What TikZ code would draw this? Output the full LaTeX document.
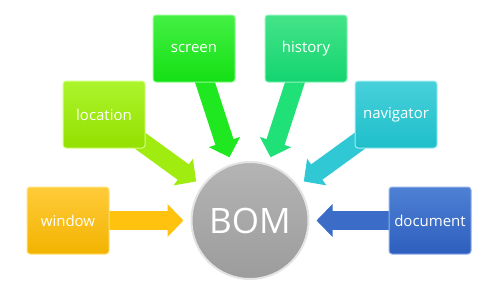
\documentclass[tikz,border=0pt]{standalone}
\usepackage{fontspec}
\setmainfont{Open Sans}
\usetikzlibrary{arrows.meta,backgrounds}
\definecolor{winT}{HTML}{FFCB3A}\definecolor{winB}{HTML}{F2B300}\definecolor{winA}{HTML}{FFC20E}\definecolor{winE}{HTML}{FFE27A}
\definecolor{locT}{HTML}{ACF42C}\definecolor{locB}{HTML}{94E000}\definecolor{locA}{HTML}{A0EC10}\definecolor{locE}{HTML}{D4FF80}
\definecolor{scrT}{HTML}{44F044}\definecolor{scrB}{HTML}{14E014}\definecolor{scrA}{HTML}{20E820}\definecolor{scrE}{HTML}{90FF90}
\definecolor{hisT}{HTML}{44E488}\definecolor{hisB}{HTML}{14D470}\definecolor{hisA}{HTML}{20E078}\definecolor{hisE}{HTML}{90F4C0}
\definecolor{navT}{HTML}{48D0DA}\definecolor{navB}{HTML}{1EBFCA}\definecolor{navA}{HTML}{30C8D4}\definecolor{navE}{HTML}{A0EEF4}
\definecolor{docT}{HTML}{4E80D4}\definecolor{docB}{HTML}{2E5FBE}\definecolor{docA}{HTML}{3A6CC8}\definecolor{docE}{HTML}{90B0EC}
\definecolor{bomT}{HTML}{B4B4B4}\definecolor{bomB}{HTML}{9C9C9C}\definecolor{bomE}{HTML}{E4E4E4}
\begin{document}
\begin{tikzpicture}[x=1pt,y=-1pt,
  box/.style={rounded corners=3pt, minimum width=82pt, minimum height=67pt, inner sep=0pt,
    text=white, font=\fontsize{15}{18}\selectfont, line width=1pt},
  conn/.style={line width=19pt, -{Triangle[width=32pt,length=16pt]}, shorten >=7pt}
]
\useasboundingbox (0,0) rectangle (500,300);
\node[box, top color=winT, bottom color=winB, draw=winE] (window) at (68,220.5) {window};
\node[box, top color=locT, bottom color=locB, draw=locE] (location) at (104,114.5) {location};
\node[box, top color=scrT, bottom color=scrB, draw=scrE] (screen) at (194,48.5) {screen};
\node[box, top color=hisT, bottom color=hisB, draw=hisE] (history) at (306,48.5) {history};
\node[box, top color=navT, bottom color=navB, draw=navE] (navigator) at (396,114.5) {navigator};
\node[box, top color=docT, bottom color=docB, draw=docE] (document) at (430,220.5) {document};
\node[circle, minimum size=117pt, inner sep=0pt, top color=bomT, bottom color=bomB, draw=bomE, line width=2pt,
  text=white, font=\fontsize{35}{40}\selectfont] (bom) at (250,220.5) {BOM};
\begin{scope}[on background layer]
\draw[conn, winA] (window.center) -- (bom);
\draw[conn, locA] (location.center) -- (bom);
\draw[conn, scrA] (screen.center) -- (bom);
\draw[conn, hisA] (history.center) -- (bom);
\draw[conn, navA] (navigator.center) -- (bom);
\draw[conn, docA] (document.center) -- (bom);
\end{scope}
\end{tikzpicture}
\end{document}
